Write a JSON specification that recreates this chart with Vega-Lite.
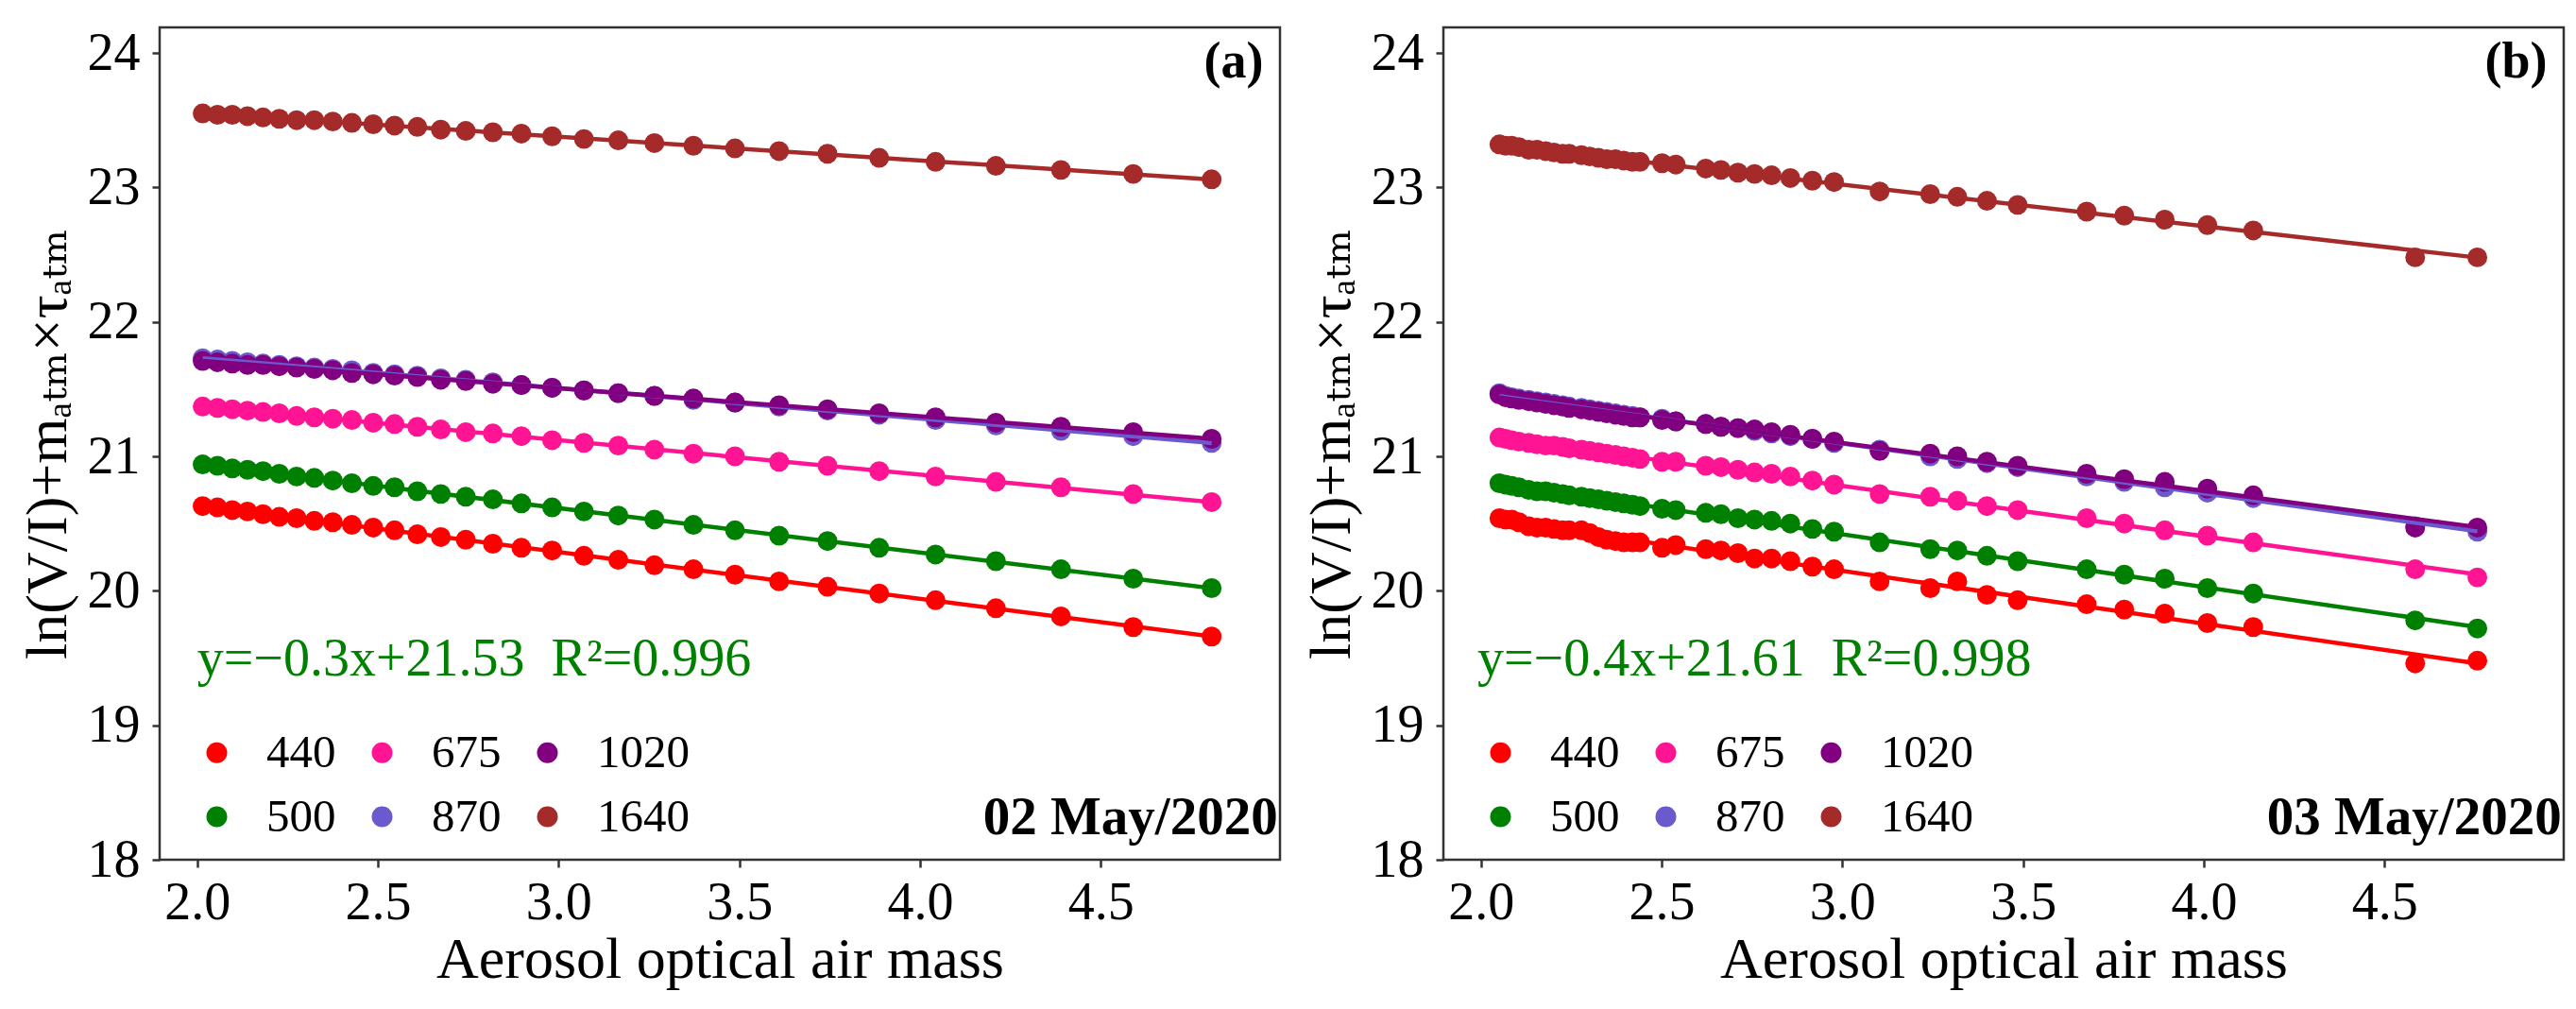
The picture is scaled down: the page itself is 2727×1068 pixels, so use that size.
{
  "$schema": "https://vega.github.io/schema/vega-lite/v6.json",
  "padding": {"left": 17, "top": 26, "right": 0, "bottom": 0},
  "background": "white",
  "config": {
    "font": "Liberation Serif",
    "view": {"stroke": "#333333", "strokeWidth": 2.5},
    "axis": {
      "grid": false, "domain": false,
      "tickColor": "#333333", "tickWidth": 2.5, "tickSize": 8,
      "labelFont": "Liberation Serif", "labelFontSize": 56, "labelColor": "black",
      "titleFont": "Liberation Serif, DejaVu Serif", "titleFontSize": 62, "titleFontWeight": "normal", "titleColor": "black"
    },
    "axisX": {"labelPadding": 10, "titlePadding": 2},
    "axisY": {"labelPadding": 13, "titlePadding": 10},
    "legend": {
      "orient": "none", "legendX": 36, "legendY": 743, "columns": 3,
      "symbolType": "circle", "symbolSize": 484, "symbolStrokeWidth": 0, "symbolOpacity": 1,
      "labelFont": "Liberation Serif", "labelFontSize": 49, "labelColor": "black",
      "labelOffset": 28, "columnPadding": 24, "rowPadding": 18, "padding": 0
    },
    "concat": {"spacing": 19}
  },
  "datasets": {
    "a": [
      {"wl":"440","x":2.015,"y":20.63},{"wl":"440","x":2.056,"y":20.62},{"wl":"440","x":2.097,"y":20.60},{"wl":"440","x":2.139,"y":20.59},{"wl":"440","x":2.182,"y":20.57},{"wl":"440","x":2.227,"y":20.55},{"wl":"440","x":2.275,"y":20.54},{"wl":"440","x":2.324,"y":20.52},{"wl":"440","x":2.375,"y":20.51},{"wl":"440","x":2.428,"y":20.49},{"wl":"440","x":2.487,"y":20.47},{"wl":"440","x":2.546,"y":20.45},{"wl":"440","x":2.609,"y":20.42},{"wl":"440","x":2.674,"y":20.40},{"wl":"440","x":2.743,"y":20.38},{"wl":"440","x":2.818,"y":20.35},{"wl":"440","x":2.897,"y":20.32},{"wl":"440","x":2.982,"y":20.30},{"wl":"440","x":3.070,"y":20.26},{"wl":"440","x":3.165,"y":20.23},{"wl":"440","x":3.265,"y":20.19},{"wl":"440","x":3.373,"y":20.16},{"wl":"440","x":3.488,"y":20.12},{"wl":"440","x":3.610,"y":20.07},{"wl":"440","x":3.744,"y":20.03},{"wl":"440","x":3.887,"y":19.98},{"wl":"440","x":4.043,"y":19.93},{"wl":"440","x":4.210,"y":19.87},{"wl":"440","x":4.390,"y":19.81},{"wl":"440","x":4.590,"y":19.73},{"wl":"440","x":4.807,"y":19.66},
      {"wl":"500","x":2.015,"y":20.94},{"wl":"500","x":2.056,"y":20.93},{"wl":"500","x":2.097,"y":20.91},{"wl":"500","x":2.139,"y":20.90},{"wl":"500","x":2.182,"y":20.89},{"wl":"500","x":2.227,"y":20.87},{"wl":"500","x":2.275,"y":20.85},{"wl":"500","x":2.324,"y":20.84},{"wl":"500","x":2.375,"y":20.82},{"wl":"500","x":2.428,"y":20.80},{"wl":"500","x":2.487,"y":20.78},{"wl":"500","x":2.546,"y":20.77},{"wl":"500","x":2.609,"y":20.74},{"wl":"500","x":2.674,"y":20.72},{"wl":"500","x":2.743,"y":20.70},{"wl":"500","x":2.818,"y":20.68},{"wl":"500","x":2.897,"y":20.65},{"wl":"500","x":2.982,"y":20.62},{"wl":"500","x":3.070,"y":20.59},{"wl":"500","x":3.165,"y":20.56},{"wl":"500","x":3.265,"y":20.53},{"wl":"500","x":3.373,"y":20.49},{"wl":"500","x":3.488,"y":20.45},{"wl":"500","x":3.610,"y":20.41},{"wl":"500","x":3.744,"y":20.37},{"wl":"500","x":3.887,"y":20.32},{"wl":"500","x":4.043,"y":20.27},{"wl":"500","x":4.210,"y":20.22},{"wl":"500","x":4.390,"y":20.16},{"wl":"500","x":4.590,"y":20.09},{"wl":"500","x":4.807,"y":20.02},
      {"wl":"675","x":2.015,"y":21.37},{"wl":"675","x":2.056,"y":21.36},{"wl":"675","x":2.097,"y":21.35},{"wl":"675","x":2.139,"y":21.34},{"wl":"675","x":2.182,"y":21.33},{"wl":"675","x":2.227,"y":21.32},{"wl":"675","x":2.275,"y":21.30},{"wl":"675","x":2.324,"y":21.29},{"wl":"675","x":2.375,"y":21.28},{"wl":"675","x":2.428,"y":21.27},{"wl":"675","x":2.487,"y":21.25},{"wl":"675","x":2.546,"y":21.24},{"wl":"675","x":2.609,"y":21.22},{"wl":"675","x":2.674,"y":21.20},{"wl":"675","x":2.743,"y":21.18},{"wl":"675","x":2.818,"y":21.17},{"wl":"675","x":2.897,"y":21.15},{"wl":"675","x":2.982,"y":21.12},{"wl":"675","x":3.070,"y":21.10},{"wl":"675","x":3.165,"y":21.08},{"wl":"675","x":3.265,"y":21.05},{"wl":"675","x":3.373,"y":21.02},{"wl":"675","x":3.488,"y":21.00},{"wl":"675","x":3.610,"y":20.96},{"wl":"675","x":3.744,"y":20.93},{"wl":"675","x":3.887,"y":20.89},{"wl":"675","x":4.043,"y":20.85},{"wl":"675","x":4.210,"y":20.81},{"wl":"675","x":4.390,"y":20.77},{"wl":"675","x":4.590,"y":20.72},{"wl":"675","x":4.807,"y":20.66},
      {"wl":"870","x":2.015,"y":21.73},{"wl":"870","x":2.056,"y":21.72},{"wl":"870","x":2.097,"y":21.71},{"wl":"870","x":2.139,"y":21.70},{"wl":"870","x":2.182,"y":21.69},{"wl":"870","x":2.227,"y":21.68},{"wl":"870","x":2.275,"y":21.67},{"wl":"870","x":2.324,"y":21.66},{"wl":"870","x":2.375,"y":21.65},{"wl":"870","x":2.428,"y":21.64},{"wl":"870","x":2.487,"y":21.62},{"wl":"870","x":2.546,"y":21.61},{"wl":"870","x":2.609,"y":21.60},{"wl":"870","x":2.674,"y":21.58},{"wl":"870","x":2.743,"y":21.57},{"wl":"870","x":2.818,"y":21.55},{"wl":"870","x":2.897,"y":21.53},{"wl":"870","x":2.982,"y":21.51},{"wl":"870","x":3.070,"y":21.49},{"wl":"870","x":3.165,"y":21.47},{"wl":"870","x":3.265,"y":21.45},{"wl":"870","x":3.373,"y":21.42},{"wl":"870","x":3.488,"y":21.40},{"wl":"870","x":3.610,"y":21.37},{"wl":"870","x":3.744,"y":21.34},{"wl":"870","x":3.887,"y":21.31},{"wl":"870","x":4.043,"y":21.27},{"wl":"870","x":4.210,"y":21.23},{"wl":"870","x":4.390,"y":21.19},{"wl":"870","x":4.590,"y":21.15},{"wl":"870","x":4.807,"y":21.10},
      {"wl":"1020","x":2.015,"y":21.71},{"wl":"1020","x":2.056,"y":21.70},{"wl":"1020","x":2.097,"y":21.69},{"wl":"1020","x":2.139,"y":21.68},{"wl":"1020","x":2.182,"y":21.68},{"wl":"1020","x":2.227,"y":21.67},{"wl":"1020","x":2.275,"y":21.66},{"wl":"1020","x":2.324,"y":21.65},{"wl":"1020","x":2.375,"y":21.64},{"wl":"1020","x":2.428,"y":21.62},{"wl":"1020","x":2.487,"y":21.61},{"wl":"1020","x":2.546,"y":21.60},{"wl":"1020","x":2.609,"y":21.59},{"wl":"1020","x":2.674,"y":21.57},{"wl":"1020","x":2.743,"y":21.56},{"wl":"1020","x":2.818,"y":21.54},{"wl":"1020","x":2.897,"y":21.53},{"wl":"1020","x":2.982,"y":21.51},{"wl":"1020","x":3.070,"y":21.49},{"wl":"1020","x":3.165,"y":21.47},{"wl":"1020","x":3.265,"y":21.45},{"wl":"1020","x":3.373,"y":21.43},{"wl":"1020","x":3.488,"y":21.40},{"wl":"1020","x":3.610,"y":21.38},{"wl":"1020","x":3.744,"y":21.35},{"wl":"1020","x":3.887,"y":21.32},{"wl":"1020","x":4.043,"y":21.29},{"wl":"1020","x":4.210,"y":21.25},{"wl":"1020","x":4.390,"y":21.22},{"wl":"1020","x":4.590,"y":21.18},{"wl":"1020","x":4.807,"y":21.13},
      {"wl":"1640","x":2.015,"y":23.55},{"wl":"1640","x":2.056,"y":23.54},{"wl":"1640","x":2.097,"y":23.54},{"wl":"1640","x":2.139,"y":23.53},{"wl":"1640","x":2.182,"y":23.52},{"wl":"1640","x":2.227,"y":23.51},{"wl":"1640","x":2.275,"y":23.50},{"wl":"1640","x":2.324,"y":23.50},{"wl":"1640","x":2.375,"y":23.49},{"wl":"1640","x":2.428,"y":23.48},{"wl":"1640","x":2.487,"y":23.47},{"wl":"1640","x":2.546,"y":23.46},{"wl":"1640","x":2.609,"y":23.45},{"wl":"1640","x":2.674,"y":23.43},{"wl":"1640","x":2.743,"y":23.42},{"wl":"1640","x":2.818,"y":23.41},{"wl":"1640","x":2.897,"y":23.40},{"wl":"1640","x":2.982,"y":23.38},{"wl":"1640","x":3.070,"y":23.36},{"wl":"1640","x":3.165,"y":23.35},{"wl":"1640","x":3.265,"y":23.33},{"wl":"1640","x":3.373,"y":23.31},{"wl":"1640","x":3.488,"y":23.29},{"wl":"1640","x":3.610,"y":23.27},{"wl":"1640","x":3.744,"y":23.25},{"wl":"1640","x":3.887,"y":23.22},{"wl":"1640","x":4.043,"y":23.19},{"wl":"1640","x":4.210,"y":23.16},{"wl":"1640","x":4.390,"y":23.13},{"wl":"1640","x":4.590,"y":23.10},{"wl":"1640","x":4.807,"y":23.06}
    ],
    "b": [
      {"wl":"440","x":2.051,"y":20.54},{"wl":"440","x":2.068,"y":20.53},{"wl":"440","x":2.085,"y":20.53},{"wl":"440","x":2.105,"y":20.51},{"wl":"440","x":2.132,"y":20.48},{"wl":"440","x":2.155,"y":20.47},{"wl":"440","x":2.179,"y":20.47},{"wl":"440","x":2.202,"y":20.46},{"wl":"440","x":2.226,"y":20.45},{"wl":"440","x":2.244,"y":20.45},{"wl":"440","x":2.278,"y":20.45},{"wl":"440","x":2.301,"y":20.43},{"wl":"440","x":2.325,"y":20.40},{"wl":"440","x":2.348,"y":20.38},{"wl":"440","x":2.372,"y":20.37},{"wl":"440","x":2.395,"y":20.36},{"wl":"440","x":2.419,"y":20.36},{"wl":"440","x":2.440,"y":20.36},{"wl":"440","x":2.501,"y":20.32},{"wl":"440","x":2.539,"y":20.34},{"wl":"440","x":2.622,"y":20.31},{"wl":"440","x":2.664,"y":20.30},{"wl":"440","x":2.711,"y":20.28},{"wl":"440","x":2.757,"y":20.24},{"wl":"440","x":2.804,"y":20.24},{"wl":"440","x":2.856,"y":20.22},{"wl":"440","x":2.917,"y":20.18},{"wl":"440","x":2.977,"y":20.16},{"wl":"440","x":3.103,"y":20.07},{"wl":"440","x":3.243,"y":20.02},{"wl":"440","x":3.318,"y":20.07},{"wl":"440","x":3.400,"y":19.97},{"wl":"440","x":3.485,"y":19.93},{"wl":"440","x":3.676,"y":19.90},{"wl":"440","x":3.780,"y":19.86},{"wl":"440","x":3.892,"y":19.83},{"wl":"440","x":4.010,"y":19.76},{"wl":"440","x":4.137,"y":19.73},{"wl":"440","x":4.585,"y":19.46},{"wl":"440","x":4.757,"y":19.48},
      {"wl":"500","x":2.051,"y":20.80},{"wl":"500","x":2.068,"y":20.79},{"wl":"500","x":2.085,"y":20.78},{"wl":"500","x":2.105,"y":20.77},{"wl":"500","x":2.132,"y":20.75},{"wl":"500","x":2.155,"y":20.74},{"wl":"500","x":2.179,"y":20.74},{"wl":"500","x":2.202,"y":20.73},{"wl":"500","x":2.226,"y":20.72},{"wl":"500","x":2.244,"y":20.71},{"wl":"500","x":2.278,"y":20.70},{"wl":"500","x":2.301,"y":20.69},{"wl":"500","x":2.325,"y":20.68},{"wl":"500","x":2.348,"y":20.67},{"wl":"500","x":2.372,"y":20.66},{"wl":"500","x":2.395,"y":20.65},{"wl":"500","x":2.419,"y":20.64},{"wl":"500","x":2.440,"y":20.63},{"wl":"500","x":2.501,"y":20.61},{"wl":"500","x":2.539,"y":20.60},{"wl":"500","x":2.622,"y":20.58},{"wl":"500","x":2.664,"y":20.57},{"wl":"500","x":2.711,"y":20.54},{"wl":"500","x":2.757,"y":20.53},{"wl":"500","x":2.804,"y":20.52},{"wl":"500","x":2.856,"y":20.50},{"wl":"500","x":2.917,"y":20.46},{"wl":"500","x":2.977,"y":20.44},{"wl":"500","x":3.103,"y":20.36},{"wl":"500","x":3.243,"y":20.31},{"wl":"500","x":3.318,"y":20.30},{"wl":"500","x":3.400,"y":20.26},{"wl":"500","x":3.485,"y":20.22},{"wl":"500","x":3.676,"y":20.16},{"wl":"500","x":3.780,"y":20.12},{"wl":"500","x":3.892,"y":20.09},{"wl":"500","x":4.010,"y":20.02},{"wl":"500","x":4.137,"y":19.98},{"wl":"500","x":4.585,"y":19.78},{"wl":"500","x":4.757,"y":19.72},
      {"wl":"675","x":2.051,"y":21.14},{"wl":"675","x":2.068,"y":21.13},{"wl":"675","x":2.085,"y":21.12},{"wl":"675","x":2.105,"y":21.11},{"wl":"675","x":2.132,"y":21.10},{"wl":"675","x":2.155,"y":21.09},{"wl":"675","x":2.179,"y":21.08},{"wl":"675","x":2.202,"y":21.08},{"wl":"675","x":2.226,"y":21.07},{"wl":"675","x":2.244,"y":21.06},{"wl":"675","x":2.278,"y":21.05},{"wl":"675","x":2.301,"y":21.04},{"wl":"675","x":2.325,"y":21.03},{"wl":"675","x":2.348,"y":21.02},{"wl":"675","x":2.372,"y":21.01},{"wl":"675","x":2.395,"y":21.00},{"wl":"675","x":2.419,"y":20.99},{"wl":"675","x":2.440,"y":20.98},{"wl":"675","x":2.501,"y":20.96},{"wl":"675","x":2.539,"y":20.96},{"wl":"675","x":2.622,"y":20.93},{"wl":"675","x":2.664,"y":20.92},{"wl":"675","x":2.711,"y":20.90},{"wl":"675","x":2.757,"y":20.88},{"wl":"675","x":2.804,"y":20.87},{"wl":"675","x":2.856,"y":20.85},{"wl":"675","x":2.917,"y":20.82},{"wl":"675","x":2.977,"y":20.79},{"wl":"675","x":3.103,"y":20.72},{"wl":"675","x":3.243,"y":20.70},{"wl":"675","x":3.318,"y":20.67},{"wl":"675","x":3.400,"y":20.63},{"wl":"675","x":3.485,"y":20.60},{"wl":"675","x":3.676,"y":20.54},{"wl":"675","x":3.780,"y":20.50},{"wl":"675","x":3.892,"y":20.45},{"wl":"675","x":4.010,"y":20.41},{"wl":"675","x":4.137,"y":20.36},{"wl":"675","x":4.585,"y":20.16},{"wl":"675","x":4.757,"y":20.10},
      {"wl":"870","x":2.051,"y":21.47},{"wl":"870","x":2.068,"y":21.45},{"wl":"870","x":2.085,"y":21.44},{"wl":"870","x":2.105,"y":21.43},{"wl":"870","x":2.132,"y":21.42},{"wl":"870","x":2.155,"y":21.41},{"wl":"870","x":2.179,"y":21.40},{"wl":"870","x":2.202,"y":21.39},{"wl":"870","x":2.226,"y":21.38},{"wl":"870","x":2.244,"y":21.37},{"wl":"870","x":2.278,"y":21.36},{"wl":"870","x":2.301,"y":21.35},{"wl":"870","x":2.325,"y":21.34},{"wl":"870","x":2.348,"y":21.33},{"wl":"870","x":2.372,"y":21.32},{"wl":"870","x":2.395,"y":21.31},{"wl":"870","x":2.419,"y":21.30},{"wl":"870","x":2.440,"y":21.29},{"wl":"870","x":2.501,"y":21.28},{"wl":"870","x":2.539,"y":21.26},{"wl":"870","x":2.622,"y":21.24},{"wl":"870","x":2.664,"y":21.22},{"wl":"870","x":2.711,"y":21.21},{"wl":"870","x":2.757,"y":21.19},{"wl":"870","x":2.804,"y":21.17},{"wl":"870","x":2.856,"y":21.15},{"wl":"870","x":2.917,"y":21.13},{"wl":"870","x":2.977,"y":21.10},{"wl":"870","x":3.103,"y":21.05},{"wl":"870","x":3.243,"y":21.00},{"wl":"870","x":3.318,"y":20.98},{"wl":"870","x":3.400,"y":20.95},{"wl":"870","x":3.485,"y":20.92},{"wl":"870","x":3.676,"y":20.85},{"wl":"870","x":3.780,"y":20.81},{"wl":"870","x":3.892,"y":20.77},{"wl":"870","x":4.010,"y":20.73},{"wl":"870","x":4.137,"y":20.69},{"wl":"870","x":4.585,"y":20.48},{"wl":"870","x":4.757,"y":20.44},
      {"wl":"1020","x":2.051,"y":21.46},{"wl":"1020","x":2.068,"y":21.44},{"wl":"1020","x":2.085,"y":21.43},{"wl":"1020","x":2.105,"y":21.42},{"wl":"1020","x":2.132,"y":21.41},{"wl":"1020","x":2.155,"y":21.40},{"wl":"1020","x":2.179,"y":21.39},{"wl":"1020","x":2.202,"y":21.38},{"wl":"1020","x":2.226,"y":21.37},{"wl":"1020","x":2.244,"y":21.36},{"wl":"1020","x":2.278,"y":21.35},{"wl":"1020","x":2.301,"y":21.34},{"wl":"1020","x":2.325,"y":21.33},{"wl":"1020","x":2.348,"y":21.32},{"wl":"1020","x":2.372,"y":21.31},{"wl":"1020","x":2.395,"y":21.30},{"wl":"1020","x":2.419,"y":21.29},{"wl":"1020","x":2.440,"y":21.29},{"wl":"1020","x":2.501,"y":21.27},{"wl":"1020","x":2.539,"y":21.26},{"wl":"1020","x":2.622,"y":21.24},{"wl":"1020","x":2.664,"y":21.22},{"wl":"1020","x":2.711,"y":21.21},{"wl":"1020","x":2.757,"y":21.20},{"wl":"1020","x":2.804,"y":21.18},{"wl":"1020","x":2.856,"y":21.16},{"wl":"1020","x":2.917,"y":21.13},{"wl":"1020","x":2.977,"y":21.11},{"wl":"1020","x":3.103,"y":21.04},{"wl":"1020","x":3.243,"y":21.02},{"wl":"1020","x":3.318,"y":21.00},{"wl":"1020","x":3.400,"y":20.96},{"wl":"1020","x":3.485,"y":20.93},{"wl":"1020","x":3.676,"y":20.87},{"wl":"1020","x":3.780,"y":20.83},{"wl":"1020","x":3.892,"y":20.81},{"wl":"1020","x":4.010,"y":20.76},{"wl":"1020","x":4.137,"y":20.71},{"wl":"1020","x":4.585,"y":20.47},{"wl":"1020","x":4.757,"y":20.47},
      {"wl":"1640","x":2.051,"y":23.32},{"wl":"1640","x":2.068,"y":23.31},{"wl":"1640","x":2.085,"y":23.31},{"wl":"1640","x":2.105,"y":23.30},{"wl":"1640","x":2.132,"y":23.28},{"wl":"1640","x":2.155,"y":23.28},{"wl":"1640","x":2.179,"y":23.27},{"wl":"1640","x":2.202,"y":23.26},{"wl":"1640","x":2.226,"y":23.25},{"wl":"1640","x":2.244,"y":23.25},{"wl":"1640","x":2.278,"y":23.24},{"wl":"1640","x":2.301,"y":23.23},{"wl":"1640","x":2.325,"y":23.22},{"wl":"1640","x":2.348,"y":23.21},{"wl":"1640","x":2.372,"y":23.21},{"wl":"1640","x":2.395,"y":23.20},{"wl":"1640","x":2.419,"y":23.19},{"wl":"1640","x":2.440,"y":23.19},{"wl":"1640","x":2.501,"y":23.18},{"wl":"1640","x":2.539,"y":23.17},{"wl":"1640","x":2.622,"y":23.14},{"wl":"1640","x":2.664,"y":23.13},{"wl":"1640","x":2.711,"y":23.11},{"wl":"1640","x":2.757,"y":23.10},{"wl":"1640","x":2.804,"y":23.09},{"wl":"1640","x":2.856,"y":23.07},{"wl":"1640","x":2.917,"y":23.05},{"wl":"1640","x":2.977,"y":23.04},{"wl":"1640","x":3.103,"y":22.97},{"wl":"1640","x":3.243,"y":22.95},{"wl":"1640","x":3.318,"y":22.93},{"wl":"1640","x":3.400,"y":22.90},{"wl":"1640","x":3.485,"y":22.87},{"wl":"1640","x":3.676,"y":22.82},{"wl":"1640","x":3.780,"y":22.79},{"wl":"1640","x":3.892,"y":22.76},{"wl":"1640","x":4.010,"y":22.72},{"wl":"1640","x":4.137,"y":22.68},{"wl":"1640","x":4.585,"y":22.48},{"wl":"1640","x":4.757,"y":22.48}
    ]
  },
  "hconcat": [
    {
      "width": 1186, "height": 881,
      "layer": [
        {
          "data": {"name": "a"},
          "mark": {"type": "circle", "size": 440, "opacity": 1},
          "encoding": {
            "x": {"field": "x", "type": "quantitative", "title": "Aerosol optical air mass", "scale": {"domain": [1.896, 4.996], "nice": false, "zero": false}, "axis": {"values": [2, 2.5, 3, 3.5, 4, 4.5], "format": ".1f"}},
            "y": {"field": "y", "type": "quantitative", "title": "ln(V/I)+mₐₜₘ×τₐₜₘ", "scale": {"domain": [18, 24.19], "nice": false, "zero": false}, "axis": {"values": [18, 19, 20, 21, 22, 23, 24], "format": "d"}},
            "color": {"field": "wl", "type": "nominal", "scale": {"domain": ["440", "500", "675", "870", "1020", "1640"], "range": ["#ff0000", "#008000", "#ff1493", "#6a5acd", "#800080", "#a52a2a"]}, "legend": {"title": null, "labelFont": "Liberation Serif", "labelFontSize": 49}}
          }
        },
        {
          "data": {"name": "a"},
          "transform": [{"regression": "y", "on": "x", "groupby": ["wl"]}],
          "mark": {"type": "line", "strokeWidth": 4.5},
          "encoding": {
            "x": {"field": "x", "type": "quantitative", "scale": {"domain": [1.896, 4.996], "nice": false, "zero": false}},
            "y": {"field": "y", "type": "quantitative", "scale": {"domain": [18, 24.19], "nice": false, "zero": false}},
            "color": {"field": "wl", "type": "nominal", "scale": {"domain": ["440", "500", "675", "870", "1020", "1640"], "range": ["#ff0000", "#008000", "#ff1493", "#6a5acd", "#800080", "#a52a2a"]}}
          }
        },
        {
          "data": {"values": [{}]},
          "mark": {"type": "text", "align": "left", "baseline": "alphabetic", "fontSize": 56, "color": "#008000", "font": "Liberation Serif"},
          "encoding": {
            "x": {"datum": 2.0, "type": "quantitative", "scale": {"domain": [1.896, 4.996], "nice": false, "zero": false}},
            "y": {"datum": 19.37, "type": "quantitative", "scale": {"domain": [18, 24.19], "nice": false, "zero": false}},
            "text": {"value": "y=−0.3x+21.53\u00a0\u00a0R²=0.996"}
          }
        },
        {
          "data": {"values": [{}]},
          "mark": {"type": "text", "align": "right", "baseline": "alphabetic", "fontSize": 54, "fontWeight": "bold", "color": "black", "font": "Liberation Serif"},
          "encoding": {
            "x": {"datum": 4.95, "type": "quantitative", "scale": {"domain": [1.896, 4.996], "nice": false, "zero": false}},
            "y": {"datum": 23.82, "type": "quantitative", "scale": {"domain": [18, 24.19], "nice": false, "zero": false}},
            "text": {"value": "(a)"}
          }
        },
        {
          "data": {"values": [{}]},
          "mark": {"type": "text", "align": "right", "baseline": "alphabetic", "fontSize": 57, "fontWeight": "bold", "color": "black", "font": "Liberation Serif"},
          "encoding": {
            "x": {"datum": 4.99, "type": "quantitative", "scale": {"domain": [1.896, 4.996], "nice": false, "zero": false}},
            "y": {"datum": 18.19, "type": "quantitative", "scale": {"domain": [18, 24.19], "nice": false, "zero": false}},
            "text": {"value": "02 May/2020"}
          }
        }
      ]
    },
    {
      "width": 1186, "height": 881,
      "layer": [
        {
          "data": {"name": "b"},
          "mark": {"type": "circle", "size": 440, "opacity": 1},
          "encoding": {
            "x": {"field": "x", "type": "quantitative", "title": "Aerosol optical air mass", "scale": {"domain": [1.896, 4.996], "nice": false, "zero": false}, "axis": {"values": [2, 2.5, 3, 3.5, 4, 4.5], "format": ".1f"}},
            "y": {"field": "y", "type": "quantitative", "title": "ln(V/I)+mₐₜₘ×τₐₜₘ", "scale": {"domain": [18, 24.19], "nice": false, "zero": false}, "axis": {"values": [18, 19, 20, 21, 22, 23, 24], "format": "d"}},
            "color": {"field": "wl", "type": "nominal", "scale": {"domain": ["440", "500", "675", "870", "1020", "1640"], "range": ["#ff0000", "#008000", "#ff1493", "#6a5acd", "#800080", "#a52a2a"]}, "legend": {"title": null, "labelFont": "Liberation Serif", "labelFontSize": 49}}
          }
        },
        {
          "data": {"name": "b"},
          "transform": [{"regression": "y", "on": "x", "groupby": ["wl"]}],
          "mark": {"type": "line", "strokeWidth": 4.5},
          "encoding": {
            "x": {"field": "x", "type": "quantitative", "scale": {"domain": [1.896, 4.996], "nice": false, "zero": false}},
            "y": {"field": "y", "type": "quantitative", "scale": {"domain": [18, 24.19], "nice": false, "zero": false}},
            "color": {"field": "wl", "type": "nominal", "scale": {"domain": ["440", "500", "675", "870", "1020", "1640"], "range": ["#ff0000", "#008000", "#ff1493", "#6a5acd", "#800080", "#a52a2a"]}}
          }
        },
        {
          "data": {"values": [{}]},
          "mark": {"type": "text", "align": "left", "baseline": "alphabetic", "fontSize": 56, "color": "#008000", "font": "Liberation Serif"},
          "encoding": {
            "x": {"datum": 1.99, "type": "quantitative", "scale": {"domain": [1.896, 4.996], "nice": false, "zero": false}},
            "y": {"datum": 19.37, "type": "quantitative", "scale": {"domain": [18, 24.19], "nice": false, "zero": false}},
            "text": {"value": "y=−0.4x+21.61\u00a0\u00a0R²=0.998"}
          }
        },
        {
          "data": {"values": [{}]},
          "mark": {"type": "text", "align": "right", "baseline": "alphabetic", "fontSize": 54, "fontWeight": "bold", "color": "black", "font": "Liberation Serif"},
          "encoding": {
            "x": {"datum": 4.95, "type": "quantitative", "scale": {"domain": [1.896, 4.996], "nice": false, "zero": false}},
            "y": {"datum": 23.82, "type": "quantitative", "scale": {"domain": [18, 24.19], "nice": false, "zero": false}},
            "text": {"value": "(b)"}
          }
        },
        {
          "data": {"values": [{}]},
          "mark": {"type": "text", "align": "right", "baseline": "alphabetic", "fontSize": 57, "fontWeight": "bold", "color": "black", "font": "Liberation Serif"},
          "encoding": {
            "x": {"datum": 4.99, "type": "quantitative", "scale": {"domain": [1.896, 4.996], "nice": false, "zero": false}},
            "y": {"datum": 18.19, "type": "quantitative", "scale": {"domain": [18, 24.19], "nice": false, "zero": false}},
            "text": {"value": "03 May/2020"}
          }
        }
      ]
    }
  ],
  "resolve": {"scale": {"color": "independent"}, "legend": {"color": "independent"}}
}
